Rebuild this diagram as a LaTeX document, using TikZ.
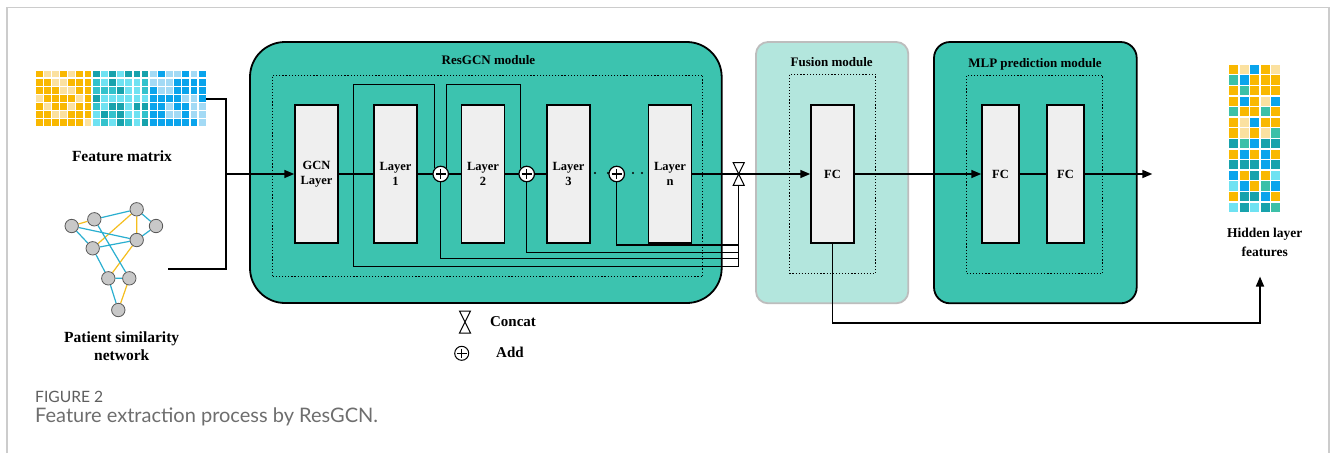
\documentclass[tikz,border=0pt]{standalone}
\usepackage{fontspec}
\setmainfont{Liberation Serif}
\newfontfamily\capfont{Lato}
\usetikzlibrary{arrows.meta,calc}
\pgfdeclarelayer{bg}
\pgfdeclarelayer{edges}
\pgfsetlayers{bg,edges,main}
\definecolor{modteal}{HTML}{3CC3AF}
\definecolor{fuslight}{HTML}{B3E6DD}
\definecolor{fusborder}{HTML}{BDBDBD}
\definecolor{boxgray}{HTML}{EFEFEF}
\definecolor{framegray}{HTML}{CCCCCC}
\definecolor{capgray}{HTML}{6E6E6E}
\definecolor{capgraydk}{HTML}{5E5E5E}
\definecolor{netb}{HTML}{2AAFD0}
\definecolor{nety}{HTML}{F5BE1E}
\definecolor{netfill}{HTML}{C8C8C8}
\definecolor{fmY}{HTML}{F9B800}
\definecolor{fmL}{HTML}{FBE1A0}
\definecolor{fmD}{HTML}{17A2AC}
\definecolor{fmT}{HTML}{33C2CC}
\definecolor{fmC}{HTML}{6FE2F2}
\definecolor{fmB}{HTML}{0AA4EC}
\definecolor{fmLB}{HTML}{A3DAF5}
\definecolor{hcY}{HTML}{F9B800}
\definecolor{hcL}{HTML}{FBE1A0}
\definecolor{hcB}{HTML}{0AA4EC}
\definecolor{hcT}{HTML}{3CC0A8}
\definecolor{hcD}{HTML}{17A2AC}
\definecolor{hcC}{HTML}{6FE2F2}
\begin{document}
\begin{tikzpicture}[x=1pt,y=-1pt,
  layerbox/.style={draw, line width=1.5pt, fill=boxgray, inner sep=0pt, minimum height=138pt, font=\bfseries\fontsize{12.5}{15}\selectfont, align=center},
  lbl/.style={font=\bfseries\fontsize{15.5}{18.5}\selectfont, align=center, inner sep=0pt},
  ttl/.style={font=\bfseries\fontsize{13}{15}\selectfont, inner sep=0pt},
  dotbox/.style={draw, line width=1pt, dash pattern=on 1.2pt off 1.9pt, inner sep=0pt, outer sep=0pt},
  module/.style={draw, line width=1.8pt, fill=modteal, inner sep=0pt, outer sep=0pt},
  conn/.style={line width=1.6pt},
  skipl/.style={line width=1.2pt},
  arr/.style={conn, -{Triangle[length=10pt,width=8pt]}},
  netnode/.style={circle, draw=black!65, fill=netfill, line width=0.8pt, minimum size=13.4pt, inner sep=0pt},
  addop/.style={circle, draw, fill=white, line width=1.2pt, minimum size=15.5pt, inner sep=0pt,
    path picture={\draw[line width=1.1pt] ($(path picture bounding box.center)+(-4.8,0)$) -- ($(path picture bounding box.center)+(4.8,0)$)
      ($(path picture bounding box.center)+(0,-4.8)$) -- ($(path picture bounding box.center)+(0,4.8)$);}},
]
\begin{pgfonlayer}{bg}
\fill[white] (0,0) rectangle (1330,453);
\end{pgfonlayer}
\useasboundingbox (0,0) rectangle (1330,453);
% frame
\draw[framegray, line width=1.5pt] (7,453) -- (7,7.5) -- (1329,7.5) -- (1329,453);

% ---------------- feature matrix
\node[minimum width=171pt, minimum height=57pt, inner sep=0pt, outer sep=0pt] (fm) at (120.5,98.5) {};
\pgfmathsetseed{12}
\foreach \i in {0,...,20}{
  \foreach \j in {0,...,6}{
    \pgfmathrandominteger{\r}{0}{9}
    \ifnum\i<7
      \ifnum\r<7 \def\fmcol{fmY}\else\def\fmcol{fmL}\fi
    \else\ifnum\i<14
      \ifnum\r<4 \def\fmcol{fmD}\else\ifnum\r<7 \def\fmcol{fmT}\else\def\fmcol{fmC}\fi\fi
    \else
      \ifnum\r<6 \def\fmcol{fmB}\else\def\fmcol{fmLB}\fi
    \fi\fi
    \fill[\fmcol] (35+\i*8.15+0.7, 70+\j*8.1+0.7) rectangle ++(6.8,6.7);
  }
}
\node[lbl] (fmlabel) at (122,156) {Feature matrix};

% ---------------- patient similarity network
\node[netnode] (n1) at (71.7,226) {};
\node[netnode] (n2) at (94.3,219.3) {};
\node[netnode] (n3) at (136.7,209.3) {};
\node[netnode] (n4) at (156,226) {};
\node[netnode] (n5) at (136.7,240) {};
\node[netnode] (n6) at (92.7,248.3) {};
\node[netnode] (n7) at (108.3,278.3) {};
\node[netnode] (n8) at (129.3,278.3) {};
\node[netnode] (n9) at (118.3,310) {};
\begin{pgfonlayer}{edges}
\draw[line width=1.2pt, nety] (n1) -- (n2) (n3) -- (n5) (n3) -- (n6) (n5) -- (n7) (n8) -- (n9);
\draw[line width=1.2pt, netb] (n2) -- (n3) (n3) -- (n4) (n4) -- (n5) (n1) -- (n5) (n6) -- (n5) (n1) -- (n6) (n2) -- (n8) (n6) -- (n7) (n7) -- (n9) (n7) -- (n8);
\end{pgfonlayer}
\node[lbl] (psnlabel) at (121.7,346) {Patient similarity\\network};
\coordinate (netout) at (168,268.5);

% ---------------- modules
\node[module, rounded corners=35pt, minimum width=471.7pt, minimum height=261pt] (resgcn) at (485.85,172.5) {};
\node[dotbox, minimum width=430pt, minimum height=201.7pt] (resdot) at (487.7,175.85) {};
\node[ttl] (restitle) at (488.5,60) {ResGCN module};

\node[draw=fusborder, fill=fuslight, line width=1.8pt, rounded corners=12pt, inner sep=0pt, minimum width=152.3pt, minimum height=261.3pt] (fusion) at (832.15,172.65) {};
\node[dotbox, minimum width=86.4pt, minimum height=199pt] (fusdot) at (832.5,173.8) {};
\node[ttl] (fustitle) at (831.7,61.7) {Fusion module};

\node[module, rounded corners=16pt, minimum width=202.7pt, minimum height=261.3pt] (mlp) at (1035.35,172.65) {};
\node[dotbox, minimum width=136pt, minimum height=198.3pt] (mlpdot) at (1034.7,174.15) {};
\node[ttl] (mlptitle) at (1035,64.3) {MLP prediction module};

% ---------------- layer boxes
\node[layerbox, minimum width=43pt] (gcn) at (316.5,174) {GCN\\Layer};
\node[layerbox, minimum width=43pt] (l1) at (395.5,174) {Layer\\1};
\node[layerbox, minimum width=43pt] (l2) at (483,174) {Layer\\2};
\node[layerbox, minimum width=43pt] (l3) at (568.5,174) {Layer\\3};
\node[layerbox, minimum width=43pt] (ln) at (670,174) {Layer\\n};
\node[layerbox, minimum width=43pt] (fc) at (832.5,174) {FC};
\node[layerbox, minimum width=37pt] (m1) at (1000.5,174) {FC};
\node[layerbox, minimum width=37pt] (m2) at (1065.5,174) {FC};

\coordinate (p1c) at (440.7,174);
\coordinate (p2c) at (526.7,174);
\coordinate (p3c) at (616.7,174);
\coordinate (cc) at (738.7,174);
\coordinate (join) at (226,174);
\coordinate (b0) at (353.3,174);
\coordinate (topy) at (0,84.3);
\coordinate (y0) at (0,266.7);
\coordinate (y1) at (0,258.3);
\coordinate (y2) at (0,252.3);
\coordinate (y3) at (0,245);
\coordinate (ccb) at (738.7,185.3);

% inputs
\draw[line width=2pt] (fm.east) -| (join);
\draw[line width=2pt] (netout) -| (join);
\draw[arr] (join) -- (gcn.west);

% main line
\draw[conn] (gcn.east) -- (l1.west);
\draw[conn] (l1.east) -- (p1c);
\draw[conn] (p1c) -- (l2.west);
\draw[conn] (l2.east) -- (p2c);
\draw[conn] (p2c) -- (l3.west);
\draw[conn] (ln.east) -- (cc);
\foreach \x in {595,608,633,642}{ \fill (\x,173) circle (1.1); }

% add nodes
\node[addop] (p1) at (p1c) {};
\node[addop] (p2) at (p2c) {};
\node[addop] (p3) at (p3c) {};

% skip connections
\draw[skipl] (b0) -- (b0 |- topy) -| (p1.north west);
\draw[skipl] (p1.north east) -- (p1.north east |- topy) -| (p2.north west);
\draw[skipl] (b0) -- (b0 |- y0) -- (cc |- y0) -- (ccb);
\draw[skipl] (p1.south) -- (p1.south |- y1) -- (cc |- y1);
\draw[skipl] (p2.south) -- (p2.south |- y2) -- (cc |- y2);
\draw[skipl] (p3.south) -- (p3.south |- y3) -- (cc |- y3);

% concat to fusion, fusion to MLP
\coordinate (outend) at (1152.3,174);
\draw[arr] (cc) -- (fc.west);
\draw[arr] (fc.east) -- (m1.west);
\draw[conn] (m1.east) -- (m2.west);
\draw[arr] (m2.east) -- (outend);
\draw[line width=1pt, fill=white] ($(cc)+(-5.5,-11.3)$) -- ($(cc)+(5.5,-11.3)$) -- ($(cc)+(-5.5,11.3)$) -- ($(cc)+(5.5,11.3)$) -- cycle;

% ---------------- hidden layer features
\foreach \row [count=\j from 0] in {{Y,L,B,Y,L},{T,B,Y,Y,Y},{Y,T,Y,Y,Y},{Y,B,Y,L,B},{T,Y,Y,T,Y},{Y,L,B,Y,Y},{Y,L,Y,L,T},{D,T,B,D,D},{Y,B,Y,B,Y},{D,D,D,B,D},{B,Y,D,Y,C},{C,B,Y,T,B},{Y,D,D,B,Y},{C,D,C,D,T}}{
  \foreach \c [count=\i from 0] in \row {
    \fill[hc\c] (1228.3+\i*10.5+0.7, 64+\j*10.6+0.7) rectangle ++(9.1,9.2);
  }
}
\node[font=\bfseries\fontsize{13.5}{19}\selectfont, align=center, inner sep=0pt] (hl) at (1264.7,242.2) {Hidden layer\\features};
\coordinate (hcorner) at (1260,323);
\coordinate (hfin) at (1260,276.5);
\draw[arr] (fc.south) |- (hcorner) -- (hfin);

% ---------------- legend
\coordinate (lgc) at (465,322);
\draw[line width=1pt] ($(lgc)+(-5.5,-11)$) -- ($(lgc)+(5.5,-11)$) -- ($(lgc)+(-5.5,11)$) -- ($(lgc)+(5.5,11)$) -- cycle;
\node[font=\bfseries\fontsize{15}{18}\selectfont, inner sep=0pt] (lgct) at (513,322) {Concat};
\node[addop, fill=none, line width=1pt, minimum size=14pt] (lga) at (461.7,353.3) {};
\node[font=\bfseries\fontsize{15}{18}\selectfont, inner sep=0pt] (lgat) at (510,352.5) {Add};

% ---------------- caption
\node[anchor=base west, inner sep=0pt, font=\capfont\fontsize{15.6}{18}\selectfont, text=capgraydk] (figno) at (35,402) {FIGURE 2};
\node[anchor=base west, inner sep=0pt, font=\capfont\fontsize{20}{24}\selectfont, text=capgray] (figcap) at (35,422) {Feature extraction process by ResGCN.};
\end{tikzpicture}
\end{document}
